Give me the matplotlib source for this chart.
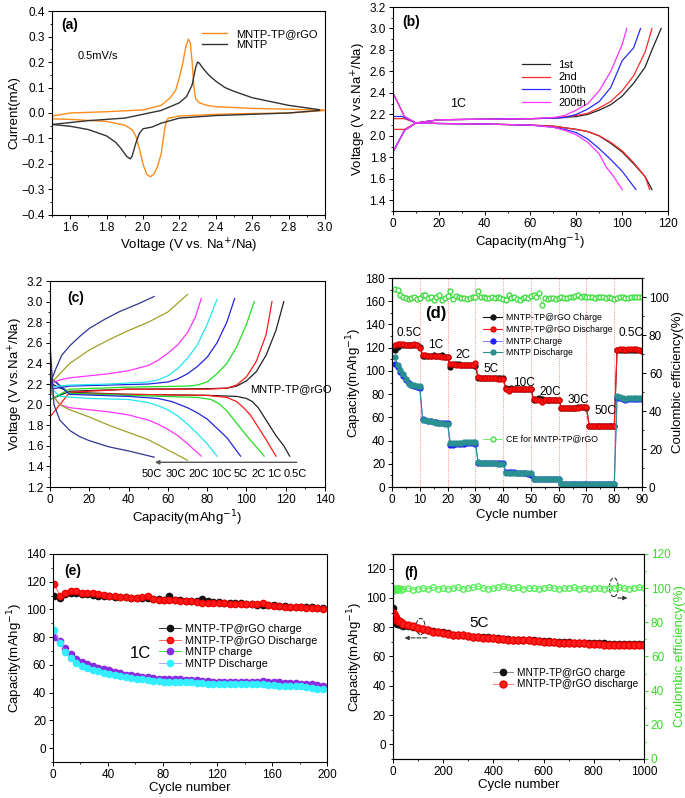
import numpy as np
import matplotlib
matplotlib.use("Agg")
from matplotlib import pyplot as plt
from matplotlib.ticker import AutoMinorLocator, MultipleLocator
from matplotlib.patches import Ellipse

plt.rcParams['font.family'] = ['Liberation Sans', 'DejaVu Sans']
plt.rcParams['font.size'] = 8.5
plt.rcParams['axes.linewidth'] = 0.8

TICK = 8.5
LAB = 9.5

# ---------- (a) CV curves ----------
a_rgo_up_v = [1.5, 1.6, 1.8, 2.0, 2.1, 2.15, 2.18, 2.2, 2.22, 2.235, 2.25, 2.26, 2.27, 2.28, 2.29, 2.31,
              2.35, 2.4, 2.6, 2.8, 2.95, 3.0]
a_rgo_up_i = [-0.012, 0.0, 0.005, 0.012, 0.03, 0.06, 0.09, 0.14, 0.2, 0.26, 0.29, 0.275, 0.2, 0.1, 0.055,
              0.04, 0.03, 0.025, 0.018, 0.015, 0.012, 0.012]
a_rgo_dn_v = [3.0, 2.8, 2.6, 2.4, 2.2, 2.14, 2.13, 2.12, 2.11, 2.1, 2.08, 2.06, 2.04, 2.02, 2.0, 1.98,
              1.96, 1.94, 1.9, 1.8, 1.6, 1.5]
a_rgo_dn_i = [0.01, 0.0, -0.002, -0.005, -0.012, -0.02, -0.03, -0.06, -0.11, -0.16, -0.21, -0.24, -0.25,
              -0.24, -0.2, -0.14, -0.09, -0.065, -0.048, -0.033, -0.025, -0.023]
a_mntp_up_v = [1.5, 1.7, 1.9, 2.0, 2.1, 2.2, 2.24, 2.27, 2.29, 2.3, 2.31, 2.33, 2.36, 2.4, 2.45, 2.5, 2.6,
               2.7, 2.8, 2.9, 2.97]
a_mntp_up_i = [-0.045, -0.03, -0.02, -0.005, 0.01, 0.04, 0.065, 0.11, 0.18, 0.2, 0.195, 0.175, 0.15, 0.125,
               0.1, 0.085, 0.06, 0.045, 0.03, 0.02, 0.013]
a_mntp_dn_v = [2.97, 2.8, 2.6, 2.4, 2.2, 2.1, 2.05, 2.0, 1.98, 1.96, 1.94, 1.93, 1.91, 1.88, 1.85, 1.8,
               1.7, 1.6, 1.5]
a_mntp_dn_i = [0.01, 0.0, -0.005, -0.01, -0.02, -0.04, -0.055, -0.062, -0.08, -0.12, -0.17, -0.18, -0.17,
               -0.14, -0.115, -0.09, -0.065, -0.052, -0.045]

# ---------- (b) 1C charge/discharge ----------
b_labels = ["1st", "2nd", "100th", "200th"]
b_colors = ["#222222", "#ff2a2a", "#2a2aff", "#ff33ff"]
b_chg_x = [[0, 5, 10, 20, 40, 60, 70, 80, 85, 90, 95, 100, 105, 110, 113, 117],
           [0, 5, 10, 20, 40, 60, 70, 80, 85, 90, 95, 100, 105, 110, 113],
           [0, 5, 10, 20, 40, 60, 70, 75, 80, 85, 90, 95, 100, 105, 108],
           [0, 0, 5, 10, 20, 40, 60, 70, 75, 80, 85, 90, 95, 100, 102]]
b_chg_y = [[1.85, 2.05, 2.12, 2.15, 2.155, 2.16, 2.165, 2.18, 2.2, 2.24, 2.29, 2.37, 2.49, 2.64, 2.8, 3.0],
           [2.06, 2.06, 2.12, 2.15, 2.155, 2.16, 2.165, 2.19, 2.21, 2.26, 2.32, 2.42, 2.56, 2.78, 3.0],
           [1.85, 2.05, 2.12, 2.15, 2.155, 2.16, 2.165, 2.17, 2.2, 2.25, 2.32, 2.45, 2.7, 2.82, 3.0],
           [1.5, 1.85, 2.05, 2.12, 2.15, 2.155, 2.16, 2.17, 2.19, 2.24, 2.3, 2.42, 2.6, 2.85, 3.0]]
b_dis_x = [[0, 5, 10, 20, 40, 60, 70, 80, 85, 90, 95, 100, 105, 110, 113],
           [0, 5, 10, 20, 40, 60, 70, 80, 85, 90, 95, 100, 105, 110, 112],
           [0, 4, 10, 20, 40, 60, 70, 75, 80, 85, 90, 95, 100, 106],
           [0, 0, 5, 10, 20, 40, 60, 70, 75, 80, 85, 90, 93, 96, 100]]
b_dis_y = [[2.40, 2.18, 2.12, 2.115, 2.11, 2.10, 2.09, 2.06, 2.04, 2.0, 1.93, 1.85, 1.74, 1.62, 1.5],
           [2.16, 2.16, 2.12, 2.115, 2.11, 2.10, 2.09, 2.06, 2.04, 2.0, 1.94, 1.86, 1.75, 1.62, 1.5],
           [2.18, 2.18, 2.12, 2.115, 2.11, 2.10, 2.08, 2.06, 2.03, 1.97, 1.88, 1.78, 1.67, 1.5],
           [3.0, 2.4, 2.18, 2.12, 2.115, 2.11, 2.10, 2.08, 2.05, 2.01, 1.94, 1.83, 1.71, 1.63, 1.5]]

# ---------- (c) rate curves ----------
c_rates = ["0.5C", "1C", "2C", "5C", "10C", "20C", "30C", "50C"]
c_colors = ["#222222", "#ff1a1a", "#22dd22", "#2323e0", "#22e5ee", "#ff33ff", "#a0a028", "#343494"]
c_chg_x = [[0, 10, 40, 80, 90, 95, 100, 105, 110, 115, 119],
           [0, 10, 40, 80, 90, 95, 100, 105, 110, 113],
           [0, 10, 40, 70, 75, 80, 85, 90, 95, 100, 104],
           [0, 10, 30, 50, 60, 65, 70, 75, 80, 85, 90, 94],
           [0, 0, 10, 30, 50, 55, 60, 65, 70, 75, 80, 85],
           [0, 5, 10, 20, 30, 40, 50, 55, 60, 65, 70, 74, 77],
           [0, 5, 10, 20, 30, 40, 50, 60, 70],
           [0, 1, 3, 6, 10, 15, 20, 28, 35, 45, 53]]
c_chg_y = [[2.05, 2.13, 2.15, 2.155, 2.16, 2.18, 2.23, 2.32, 2.48, 2.72, 3.0],
           [1.88, 2.12, 2.15, 2.15, 2.16, 2.19, 2.27, 2.42, 2.68, 3.0],
           [2.05, 2.15, 2.17, 2.18, 2.19, 2.22, 2.3, 2.4, 2.56, 2.78, 3.0],
           [2.15, 2.18, 2.19, 2.2, 2.22, 2.25, 2.3, 2.37, 2.46, 2.6, 2.8, 3.03],
           [1.55, 2.17, 2.19, 2.2, 2.22, 2.24, 2.28, 2.35, 2.45, 2.58, 2.78, 3.02],
           [2.2, 2.24, 2.26, 2.28, 2.3, 2.33, 2.38, 2.43, 2.5, 2.58, 2.7, 2.85, 3.03],
           [2.2, 2.3, 2.4, 2.53, 2.63, 2.72, 2.8, 2.9, 3.07],
           [2.1, 2.25, 2.35, 2.48, 2.57, 2.66, 2.74, 2.83, 2.9, 2.98, 3.05]]
c_dis_x = [[0, 1, 10, 40, 80, 95, 100, 103, 106, 110, 115, 119, 122],
           [0, 1, 10, 40, 80, 90, 95, 98, 102, 106, 110, 115],
           [0, 1, 10, 40, 75, 82, 86, 90, 95, 100, 105, 109],
           [0, 1, 10, 40, 55, 62, 70, 75, 80, 85, 90, 97],
           [0, 1, 5, 20, 40, 50, 55, 60, 65, 70, 75, 80, 85],
           [0, 1, 5, 10, 20, 30, 40, 50, 55, 60, 65, 70, 77],
           [0, 1, 5, 10, 20, 30, 40, 50, 60, 70],
           [0, 0, 2, 5, 10, 15, 20, 30, 40, 53]]
c_dis_y = [[2.3, 2.2, 2.12, 2.1, 2.09, 2.08, 2.06, 2.03, 1.97, 1.85, 1.7, 1.6, 1.5],
           [2.35, 2.25, 2.11, 2.1, 2.09, 2.07, 2.03, 1.98, 1.9, 1.78, 1.66, 1.5],
           [2.4, 2.25, 2.11, 2.09, 2.07, 2.05, 2.01, 1.94, 1.82, 1.7, 1.59, 1.5],
           [2.45, 2.25, 2.1, 2.08, 2.06, 2.03, 1.97, 1.92, 1.86, 1.77, 1.68, 1.5],
           [2.5, 2.15, 2.08, 2.06, 2.05, 2.02, 1.99, 1.95, 1.89, 1.81, 1.72, 1.62, 1.5],
           [2.55, 2.1, 2.0, 1.97, 1.95, 1.93, 1.9, 1.85, 1.81, 1.76, 1.7, 1.62, 1.5],
           [2.55, 2.1, 2.0, 1.95, 1.88, 1.8, 1.73, 1.66, 1.56, 1.46],
           [3.0, 2.6, 2.0, 1.85, 1.75, 1.69, 1.65, 1.59, 1.55, 1.49]]
c_label_x = [125, 114, 106, 97, 87, 75.5, 64, 52]

# ---------- (d) rate capability ----------
d_cycle = np.arange(1, 91)
d_rgo_chg = [118, 121, 122, 122, 122, 122, 122, 122, 122, 121,
             113, 113, 113, 113, 114, 113, 113, 114, 112, 112,
             103, 106, 106, 106, 105, 105, 105, 105, 105, 104,
             94, 94, 94, 94, 94, 94, 94, 94, 94, 94,
             85, 84, 85, 84, 84, 84, 84, 84, 84, 84,
             75, 76, 77, 76, 75, 75, 75, 75, 75, 75,
             68, 68, 68, 68, 68, 68, 68.5, 68.5, 68.5, 68,
             52.5, 52.5, 52.5, 52.5, 52.5, 52.5, 52.5, 52.5, 52.5, 52.5,
             118, 118, 118, 118, 118, 118, 118, 118, 118, 117.5]
d_rgo_dis = [122, 123, 123, 123, 122, 122, 122, 123, 122, 120,
             114, 114, 113, 113, 113, 113, 113, 112, 112, 112,
             106, 106, 105, 105, 105, 105, 105, 105, 105, 107,
             95, 94, 94, 94, 93.5, 93.5, 93.5, 93, 93, 93,
             84, 83, 84, 84, 84, 84, 84, 84, 84, 84,
             76, 75, 75, 73, 75, 75, 75, 75, 75, 75,
             68, 68, 68, 68, 68, 68, 68, 68.5, 68.5, 68.5,
             52.5, 52.5, 52.5, 52.5, 52.5, 52.5, 52.5, 52.5, 52.5, 52.5,
             118, 118.5, 118.5, 118, 118.5, 118.5, 118.5, 118.5, 118, 117.5]
d_mntp_chg = [106, 103, 99, 96, 92, 90, 88, 87, 86, 85,
              59, 58, 57, 56.5, 56, 56, 55.5, 55, 55, 55,
              36, 36.5, 37, 37, 37, 37, 37.5, 37.5, 37.5, 37,
              21, 21, 21, 21, 21, 21, 21, 21, 21, 21,
              13, 13, 13, 13, 12.5, 12.5, 12, 12, 11.5, 10.5,
              6.5, 6.5, 6.5, 6.5, 6.5, 6.5, 6.5, 6.5, 6.5, 6.5,
              2.5, 2.5, 2.5, 2.5, 2.5, 2.5, 2.5, 2.5, 2.5, 2.5,
              2.5, 2.5, 2.5, 2.5, 2.5, 2.5, 2.5, 2.5, 2.5, 2.5,
              77, 77, 76, 75, 75.5, 75.5, 75.5, 75.5, 75.5, 75.5]
d_mntp_dis = [112, 105, 101, 97, 93, 89, 88, 88, 87, 87,
              58, 57.5, 57, 56.5, 56, 55.5, 55, 55, 54.5, 54.5,
              37.5, 38, 38, 38, 38, 38.5, 38.5, 39, 39, 38.5,
              21.5, 21, 21, 21, 20.5, 20.5, 20.5, 20, 20, 19.5,
              12.5, 12.5, 12.5, 12.5, 12, 12, 12, 12, 12, 12,
              6.5, 6.5, 6.5, 6.5, 6.5, 6.5, 6.5, 6.5, 6.5, 6.5,
              2.5, 2.5, 2.5, 2.5, 2.5, 2.5, 2.5, 2.5, 2.5, 2.5,
              2.5, 2.5, 2.5, 2.5, 2.5, 2.5, 2.5, 2.5, 2.5, 2.5,
              78, 77.5, 77, 76, 76.5, 77, 77, 77, 77, 77]
d_ce = [104, 103.5, 101, 100, 99.5, 99, 99.5, 100, 99, 99.5,
        101, 101, 99.5, 100, 98.5, 100, 101, 98.5, 99.5, 100.5,
        103, 99, 100.5, 100, 99.5, 99.5, 99, 99.5, 100, 100,
        103, 100, 100, 99.5, 99.5, 100, 99.5, 100, 99.5, 99,
        98.5, 101, 99.5, 100, 99, 98.5, 99.5, 100, 99.5, 100.5,
        101, 100, 102, 96, 99.5, 99, 99.5, 99.5, 99, 99.5,
        100, 99.5, 99.5, 100, 100, 100.5, 101, 100, 100.5, 100,
        100, 100, 99.5, 100, 100, 100, 99.5, 100, 99.5, 99,
        99.5, 100, 100, 99.5, 99.5, 100, 100, 100, 100, 100]
d_steps = [10, 20, 30, 40, 50, 60, 70, 80]
d_rate_text = ["0.5C", "1C", "2C", "5C", "10C", "20C", "30C", "50C", "0.5C"]
d_rate_x = [1.5, 13, 23, 33, 43.5, 53, 63, 73, 81.5]
d_rate_y = [130, 120, 111, 99, 87, 79, 72, 63, 130]

# ---------- (e) 1C cycling ----------
e_cycle = np.arange(1, 201, 4)
e_rgo_chg = [110, 108, 111, 112, 112, 111, 111, 110.5, 110, 110,
             109.5, 109, 109, 109, 108.5, 108.5, 108, 108, 107.5, 107.5,
             107, 109.5, 107, 106.5, 106, 106, 106, 107.5, 106, 105.5,
             105.5, 105, 105, 104.5, 104.5, 104, 104, 103.5, 103.5, 103,
             103, 102.5, 102.5, 102, 102, 102, 101.5, 101.5, 101, 101]
e_rgo_dis = [118, 110, 112, 113, 113.5, 112, 112, 111.5, 111, 110.5,
             110, 110, 109, 109, 108.5, 108.5, 109, 110, 107.5, 107,
             107, 106.5, 106.5, 106, 106, 106, 105.5, 105, 105, 104.5,
             104.5, 104.5, 104, 104, 104, 104, 104, 104, 104.5, 103,
             102.5, 102.5, 102, 102, 101.5, 101.5, 101, 101, 101, 100.5]
e_mntp_chg = [80, 77, 72, 68, 64, 62, 60.5, 59, 58, 57,
              56, 55, 54, 53, 52.5, 52, 51.5, 51, 50.5, 50,
              50, 50, 49.5, 49.5, 49, 49, 49, 48.5, 48.5, 48,
              48, 48, 48, 47.5, 48, 48, 48, 48, 48.5, 48,
              47.5, 47.5, 47, 47, 47, 46.5, 46.5, 46, 45.5, 44.5]
e_mntp_dis = [85, 76, 69, 65, 61.5, 59.5, 58, 56.5, 55.5, 54.5,
              53.5, 53, 52, 51, 50.5, 50, 49.5, 49, 48.5, 48.5,
              48, 48, 48, 47.5, 47.5, 47.5, 47, 47, 46.5, 46.5,
              46, 46, 46, 46, 46, 46, 46, 46, 46, 45.5,
              45.5, 45, 45, 45, 44.5, 44.5, 44, 43.5, 43, 42.5]

# ---------- (f) 5C cycling ----------
f_cycle = np.concatenate([[1, 4, 8, 12, 16, 20, 25, 30], np.arange(40, 1001, 20)])
f_rgo_chg = [93, 86, 84, 83, 82.5, 82, 82, 81.5,
             81, 80.5, 80, 79.5, 79, 78, 77.5, 77, 77, 76,
             75, 74.5, 74.5, 74, 73.5, 73.5, 73, 73, 72.5, 72.5,
             72, 72, 71.5, 71.5, 71.5, 71, 71, 70.5, 70.5, 70.5,
             70, 70, 70, 70, 69.5, 69.5, 69.5, 69, 69, 69,
             69, 68.5, 68.5, 68.5, 68.5, 68.5, 68.5, 68.5, 68.5]
f_rgo_dis = [90, 89, 87.5, 86, 85, 84.5, 84, 83.5,
             82.5, 81.5, 80.5, 79.5, 78.5, 78, 77, 76.5, 76, 75.5,
             75, 74.5, 74.5, 74, 73.5, 73.5, 72.5, 72.5, 72.5, 72,
             72, 71.5, 71.5, 71.5, 71, 71, 70.5, 70.5, 70, 70,
             70, 69.5, 69.5, 69.5, 69, 69, 69, 68.5, 68.5, 68.5,
             68, 68, 68, 68, 68, 68, 68, 68, 68]
f_ce = [98.5, 99, 99.5, 100, 99, 99.5, 100, 99,
        99.5, 100, 99, 99.5, 100, 99.5, 100.5, 99.5, 100, 99.5,
        100, 100.5, 99.5, 100, 100.5, 101, 100, 99.5, 100, 100.5,
        101, 100.5, 100, 100.5, 99.5, 100, 100, 99.5, 100, 100.5,
        100, 99.5, 100, 100, 100.5, 99.5, 100, 99.5, 100, 100,
        99.5, 100, 100, 100.5, 100, 99.5, 100, 100.5, 100]

fig = plt.figure(figsize=(6.85, 7.98), dpi=100)


def style(ax):
    ax.tick_params(direction='out', length=3, width=0.7, labelsize=TICK, pad=2)
    ax.tick_params(which='minor', direction='out', length=1.7, width=0.6)
    ax.xaxis.set_minor_locator(AutoMinorLocator(2))
    ax.yaxis.set_minor_locator(AutoMinorLocator(2))


# (a)
ax = fig.add_axes([0.0759, 0.7306, 0.3985, 0.2556])
ax.plot(a_rgo_up_v, a_rgo_up_i, color="#ff8c1a", lw=1.0, label="MNTP-TP@rGO")
ax.plot(a_rgo_dn_v, a_rgo_dn_i, color="#ff8c1a", lw=1.0)
ax.plot(a_mntp_up_v, a_mntp_up_i, color="#333333", lw=1.0, label="MNTP")
ax.plot(a_mntp_dn_v, a_mntp_dn_i, color="#333333", lw=1.0)
ax.set_xlim(1.5, 3.0)
ax.set_ylim(-0.4, 0.4)
ax.xaxis.set_major_locator(MultipleLocator(0.2))
ax.yaxis.set_major_locator(MultipleLocator(0.1))
style(ax)
ax.set_xlabel("Voltage (V vs. Na$^{+}$/Na)", fontsize=LAB, labelpad=2)
ax.set_ylabel("Current(mA)", fontsize=LAB, labelpad=1)
ax.text(1.55, 0.33, "(a)", fontsize=10, fontweight='bold')
ax.text(1.64, 0.21, "0.5mV/s", fontsize=8)
ax.legend(loc='upper right', bbox_to_anchor=(1.0, 0.95), frameon=False, fontsize=8,
          handlelength=2.2, labelspacing=0.1, borderpad=0.2)

# (b)
ax = fig.add_axes([0.5737, 0.7356, 0.4015, 0.2556])
for i in range(4):
    ax.plot(b_chg_x[i], b_chg_y[i], color=b_colors[i], lw=0.9, label=b_labels[i])
    ax.plot(b_dis_x[i], b_dis_y[i], color=b_colors[i], lw=0.9)
ax.set_xlim(0, 120)
ax.set_ylim(1.3, 3.2)
ax.xaxis.set_major_locator(MultipleLocator(20))
ax.set_yticks(np.arange(1.4, 3.21, 0.2))
style(ax)
ax.set_xlabel("Capacity(mAhg$^{-1}$)", fontsize=LAB, labelpad=2)
ax.set_ylabel("Voltage (V vs.Na$^{+}$/Na)", fontsize=LAB, labelpad=1)
ax.text(4, 3.02, "(b)", fontsize=10, fontweight='bold')
ax.text(25, 2.27, "1C", fontsize=9)
ax.legend(loc='upper left', bbox_to_anchor=(0.44, 0.78), frameon=False, fontsize=8,
          handlelength=2.5, labelspacing=0.25, borderpad=0.2)

# (c)
ax = fig.add_axes([0.0730, 0.3897, 0.4015, 0.2581])
for i in range(8):
    ax.plot(c_chg_x[i], c_chg_y[i], color=c_colors[i], lw=0.9)
    ax.plot(c_dis_x[i], c_dis_y[i], color=c_colors[i], lw=0.9)
ax.annotate("", xy=(52, 1.44), xytext=(127, 1.44),
            arrowprops=dict(arrowstyle='-|>', color="#555555", lw=1.0, mutation_scale=6))
for r, xx in zip(c_rates, c_label_x):
    ax.text(xx, 1.33, r, fontsize=8, ha='center', va='center')
ax.text(102, 2.12, "MNTP-TP@rGO", fontsize=8)
ax.set_xlim(0, 140)
ax.set_ylim(1.2, 3.2)
ax.xaxis.set_major_locator(MultipleLocator(20))
ax.yaxis.set_major_locator(MultipleLocator(0.2))
style(ax)
ax.set_xlabel("Capacity(mAhg$^{-1}$)", fontsize=LAB, labelpad=2)
ax.set_ylabel("Voltage (V vs.Na$^{+}$/Na)", fontsize=LAB, labelpad=1)
ax.text(9, 3.0, "(c)", fontsize=10, fontweight='bold')

# (d)
ax = fig.add_axes([0.5723, 0.3897, 0.3650, 0.2619])
ax2 = ax.twinx()
for s in d_steps:
    ax.axvline(s, color="#ff6666", lw=0.6, ls=':')
ax.plot(d_cycle, d_rgo_chg, '-o', color="#111111", ms=3.5, lw=0.8, label="MNTP-TP@rGO Charge")
ax.plot(d_cycle, d_rgo_dis, '-o', color="#ff1a1a", ms=3.5, lw=0.8, mfc="#ff1a1a", mec="#dd0000",
        label="MNTP-TP@rGO Discharge")
ax.plot(d_cycle, d_mntp_chg, '-o', color="#8080ff", ms=3.5, lw=0.8, mfc="#2020ff", mec="#2020ff",
        label="MNTP Charge")
ax.plot(d_cycle, d_mntp_dis, '-o', color="#2a8f8f", ms=3.5, lw=0.8, mfc="#2a9090", mec="#2a9090",
        label="MNTP Discharge")
ax2.plot(d_cycle, d_ce, '-o', color="#55ee55", ms=3.5, lw=0.6, mfc='white', mec="#44dd44",
         label="CE for MNTP-TP@rGO")
ax.set_xlim(0, 90)
ax.set_ylim(0, 180)
ax2.set_ylim(0, 110)
ax.xaxis.set_major_locator(MultipleLocator(10))
ax.yaxis.set_major_locator(MultipleLocator(20))
ax2.yaxis.set_major_locator(MultipleLocator(20))
style(ax)
ax2.tick_params(direction='out', length=3, width=0.7, labelsize=TICK, pad=2)
ax2.tick_params(which='minor', direction='out', length=1.7, width=0.6)
ax2.yaxis.set_minor_locator(AutoMinorLocator(2))
ax.set_xlabel("Cycle number", fontsize=LAB, labelpad=2)
ax.set_ylabel("Capacity(mAhg$^{-1}$)", fontsize=LAB, labelpad=1)
ax2.set_ylabel("Coulombic efficiency(%)", fontsize=LAB, labelpad=2)
ax.text(12, 146, "(d)", fontsize=12, fontweight='bold')
for t, xx, yy in zip(d_rate_text, d_rate_x, d_rate_y):
    ax.text(xx, yy, t, fontsize=8.5)
ax.legend(loc='upper left', bbox_to_anchor=(0.34, 0.86), frameon=False, fontsize=6.3,
          handlelength=2.2, labelspacing=0.3, borderpad=0.2, handletextpad=0.4)
ax2.legend(loc='upper left', bbox_to_anchor=(0.34, 0.28), frameon=False, fontsize=6.3,
           handlelength=2.2, borderpad=0.2, handletextpad=0.4)

# (e)
ax = fig.add_axes([0.0774, 0.0451, 0.4000, 0.2607])
ax.plot(e_cycle, e_rgo_chg, '-o', color="#333333", ms=4.5, lw=0.7, mfc="#111111", mec="#111111",
        label="MNTP-TP@rGO charge")
ax.plot(e_cycle, e_rgo_dis, '-o', color="#ff6666", ms=4.5, lw=0.7, mfc="#ff1a1a", mec="#ee0000",
        label="MNTP-TP@rGO Discharge")
ax.plot(e_cycle, e_mntp_chg, '-o', color="#44dd44", ms=4.5, lw=0.7, mfc="#8a2be2", mec="#8a2be2",
        label="MNTP charge")
ax.plot(e_cycle, e_mntp_dis, '-o', color="#b8a0ff", ms=4.5, lw=0.7, mfc="#33eeff", mec="#33eeff",
        label="MNTP Discharge")
ax.set_xlim(0, 200)
ax.set_ylim(-10, 140)
ax.xaxis.set_major_locator(MultipleLocator(40))
ax.set_yticks(np.arange(0, 141, 20))
style(ax)
ax.set_xlabel("Cycle number", fontsize=LAB, labelpad=1)
ax.set_ylabel("Capacity(mAhg$^{-1}$)", fontsize=LAB, labelpad=1)
ax.text(8, 125, "(e)", fontsize=10, fontweight='bold')
ax.text(56, 65, "1C", fontsize=12)
ax.legend(loc='upper left', bbox_to_anchor=(0.36, 0.70), frameon=False, fontsize=7.8,
          handlelength=2.0, labelspacing=0.15, borderpad=0.2, handletextpad=0.4)

# (f)
ax = fig.add_axes([0.5737, 0.0489, 0.3664, 0.2569])
ax2 = ax.twinx()
green = "#33dd22"
ax2.plot(f_cycle, f_ce, '-o', color="#66ee66", ms=4, lw=0.6, mfc='none', mec="#55ee55")
ax.plot(f_cycle, f_rgo_chg, '-o', color="#888888", ms=4.5, lw=0.7, mfc="#111111", mec="#111111",
        label="MNTP-TP@rGO charge")
ax.plot(f_cycle, f_rgo_dis, '-o', color="#ff8080", ms=5, lw=0.7, mfc="#ff2020", mec="#ee0000",
        label="MNTP-TP@rGO discharge")
ax.set_zorder(ax2.get_zorder() + 1)
ax.patch.set_visible(False)
ax.add_patch(Ellipse((110, 80.5), 35, 11, fill=False, ls='--', lw=0.8, ec="#333333"))
ax.annotate("", xy=(35, 72.7), xytext=(146, 72.7),
            arrowprops=dict(arrowstyle='-|>', ls='--', color="#333333", lw=0.8, mutation_scale=6))
ax2.add_patch(Ellipse((880, 100.5), 35, 11, fill=False, ls='--', lw=0.8, ec="#333333"))
ax2.annotate("", xy=(945, 94.2), xytext=(885, 94.2),
             arrowprops=dict(arrowstyle='-|>', ls='--', color="#333333", lw=0.8, mutation_scale=6))
ax.set_xlim(0, 1000)
ax.set_ylim(-10, 130)
ax2.set_ylim(0, 120)
ax.xaxis.set_major_locator(MultipleLocator(200))
ax.set_yticks(np.arange(0, 121, 20))
ax2.yaxis.set_major_locator(MultipleLocator(20))
style(ax)
ax2.tick_params(direction='out', length=3, width=0.7, labelsize=TICK, pad=2, colors=green)
ax2.tick_params(which='minor', direction='out', length=1.7, width=0.6, colors=green)
ax2.yaxis.set_minor_locator(AutoMinorLocator(2))
ax2.spines['right'].set_color(green)
ax.set_xlabel("Cycle number", fontsize=LAB, labelpad=1)
ax.set_ylabel("Capacity(mAhg$^{-1}$)", fontsize=LAB, labelpad=1)
ax2.set_ylabel("Coulombic efficiency(%)", fontsize=LAB, labelpad=2, color=green)
ax.text(45, 114, "(f)", fontsize=10, fontweight='bold')
ax.text(305, 80, "5C", fontsize=11)
ax.legend(loc='upper left', bbox_to_anchor=(0.37, 0.48), frameon=False, fontsize=7.3,
          handlelength=2.0, labelspacing=0.15, borderpad=0.2, handletextpad=0.4)

fig.savefig("out.png", dpi=100)
